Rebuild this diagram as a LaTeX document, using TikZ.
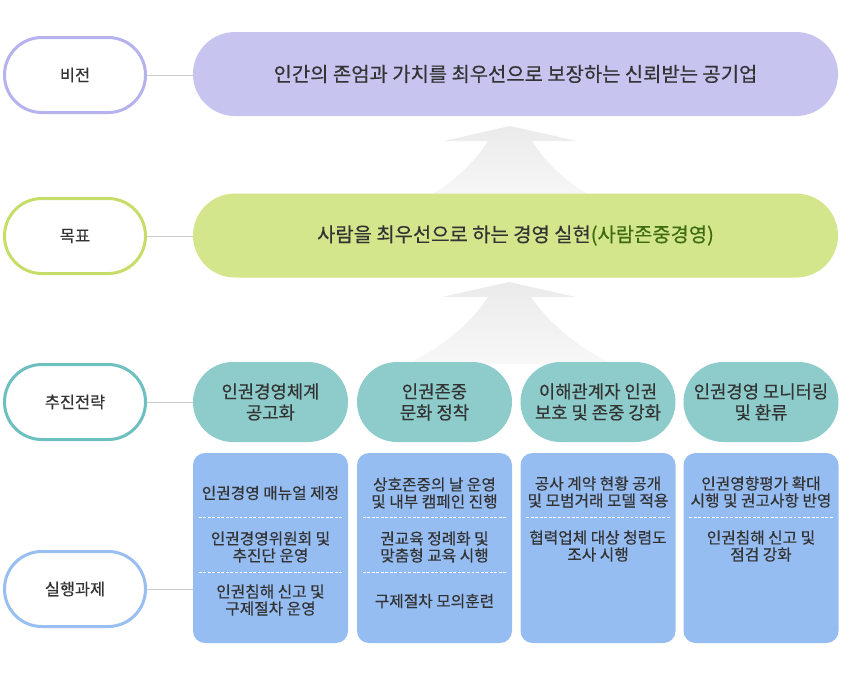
\documentclass[tikz,border=0pt]{standalone}
\usepackage{fontspec}
\setmainfont{Noto Sans CJK KR}[FakeBold=0.4]
\usetikzlibrary{calc}
\definecolor{vline}{HTML}{B5B2EE}
\definecolor{vfill}{HTML}{C7C4F0}
\definecolor{gline}{HTML}{C6DD6A}
\definecolor{gfill}{HTML}{D3E68C}
\definecolor{sline}{HTML}{6DBFC0}
\definecolor{sfill}{HTML}{8DCCCB}
\definecolor{tline}{HTML}{98BEF2}
\definecolor{tfill}{HTML}{96BDF2}
\definecolor{cgray}{HTML}{CCCCCC}
\definecolor{ctext}{HTML}{333333}
\definecolor{cgreen}{HTML}{3F6B12}

\begin{document}
\begin{tikzpicture}[x=0.75pt, y=-0.75pt,
  lab/.style={draw, line width=2.25pt, fill=white, rounded corners=28pt, minimum width=105.75pt, minimum height=56.25pt, inner sep=0pt, font=\fontsize{12.3}{14}\selectfont, text=ctext},
  wide/.style={rounded corners=31.5pt, minimum width=483.75pt, minimum height=63pt, font=\fontsize{14.9}{17}\selectfont, text=ctext},
  pill/.style={fill=sfill, rounded corners=30pt, minimum width=116.25pt, minimum height=60pt, inner sep=0pt, align=center, font=\fontsize{13.3}{15.75}\selectfont, text=ctext},
  task/.style={fill=tfill, rounded corners=9pt, minimum width=116.25pt, minimum height=142.5pt},
  item/.style={align=center, inner sep=0pt, font=\fontsize{11.8}{12.75}\selectfont, text=ctext},
  sep/.style={draw=white, line width=0.6pt, dash pattern=on 2.2pt off 1.2pt},
  conn/.style={draw=cgray, line width=0.75pt},
  up/.style={top color=black!8, bottom color=black!3},
]
  \useasboundingbox (0,0) rectangle (860,676);

  % big upward arrows
  \shade[up] (510,126) -- (577,141) -- (532,141) .. controls (545,162) and (568,184) .. (595,198)
    -- (425,198) .. controls (452,184) and (475,162) .. (488,141) -- (444,141) -- cycle;
  \shade[up] (509,282) -- (576,297) -- (531,297) .. controls (548,322) and (578,348) .. (613,364)
    -- (407,364) .. controls (442,348) and (472,322) .. (488,297) -- (442,297) -- cycle;

  % rows
  \node[lab, draw=vline] (lv) at (75,75) {비전};
  \node[lab, draw=gline] (lg) at (75,236) {목표};
  \node[lab, draw=sline] (ls) at (75,402) {추진전략};
  \node[lab, draw=tline] (lt) at (75,589) {실행과제};

  \node[wide, fill=vfill] (vis) at (515.5,74) {인간의 존엄과 가치를 최우선으로 보장하는 신뢰받는 공기업};
  \node[wide, fill=gfill] (goal) at (515.5,235.5) {사람을 최우선으로 하는 경영 실현\textcolor{cgreen}{(사람존중경영)}};

  \node[pill] (s1) at (270.5,402) {인권경영체계\\공고화};
  \node[pill] (s2) at (434.5,402) {인권존중\\문화 정착};
  \node[pill] (s3) at (598,402) {이해관계자 인권\\보호 및 존중 강화};
  \node[pill] (s4) at (761,402) {인권경영 모니터링\\및 환류};

  \node[task] (t1) at (270.5,548) {};
  \node[task] (t2) at (434.5,548) {};
  \node[task] (t3) at (598,548) {};
  \node[task] (t4) at (761,548) {};

  \node[item] (t1a) at (270.5,493) {인권경영 매뉴얼 제정};
  \node[item] (t1b) at (270.5,547) {인권경영위원회 및\\추진단 운영};
  \node[item] (t1c) at (270.5,600) {인권침해 신고 및\\구제절차 운영};
  \node[item] (t2a) at (434.5,493) {상호존중의 날 운영\\및 내부 캠페인 진행};
  \node[item] (t2b) at (434.5,547) {권교육 정례화 및\\맞춤형 교육 시행};
  \node[item] (t2c) at (434.5,601) {구제절차 모의훈련};
  \node[item] (t3a) at (598,492) {공사 계약 현황 공개\\및 모범거래 모델 적용};
  \node[item] (t3b) at (598,546) {협력업체 대상 청렴도\\조사 시행};
  \node[item] (t4a) at (761,492) {인권영향평가 확대\\시행 및 권고사항 반영};
  \node[item] (t4b) at (761,546) {인권침해 신고 및\\점검 강화};

  % dashed separators
  \draw[sep] ($(t1.north west)+(6,65)$) -- ($(t1.north east)+(-6,65)$);
  \draw[sep] ($(t1.north west)+(6,120)$) -- ($(t1.north east)+(-6,120)$);
  \draw[sep] ($(t2.north west)+(6,65)$) -- ($(t2.north east)+(-6,65)$);
  \draw[sep] ($(t2.north west)+(6,120)$) -- ($(t2.north east)+(-6,120)$);
  \draw[sep] ($(t3.north west)+(6,65)$) -- ($(t3.north east)+(-6,65)$);
  \draw[sep] ($(t4.north west)+(6,65)$) -- ($(t4.north east)+(-6,65)$);

  \draw[conn] (lv.east) -- (lv.east -| vis.west);
  \draw[conn] (lg.east) -- (lg.east -| goal.west);
  \draw[conn] (ls.east) -- (ls.east -| s1.west);
  \draw[conn] (lt.east) -- (lt.east -| t1.west);
\end{tikzpicture}
\end{document}
